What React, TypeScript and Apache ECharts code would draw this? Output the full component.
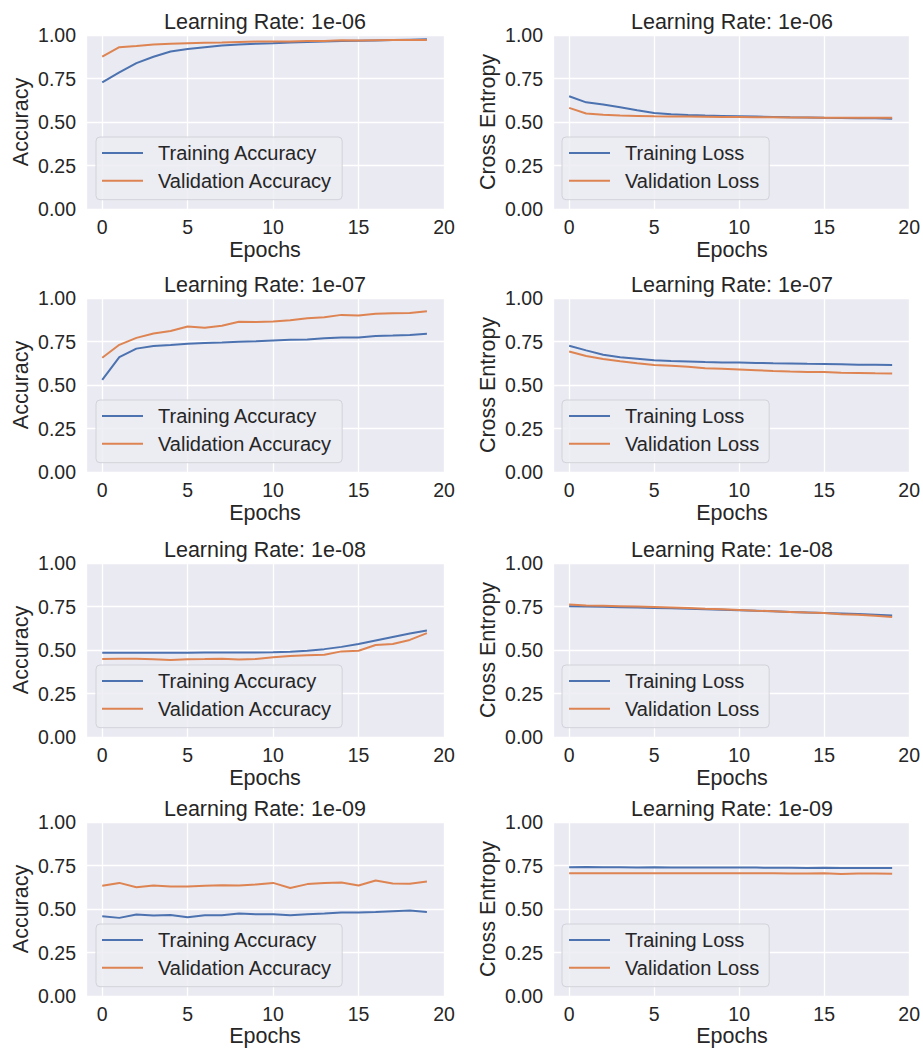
import React, { useEffect, useRef } from "react";
import * as echarts from "echarts";

const epochs = Array.from({ length: 20 }, (_, i) => i);

const learningRates = ["1e-06", "1e-07", "1e-08", "1e-09"];

// Accuracy panels (left column)
const trainAcc6 = [0.728, 0.785, 0.838, 0.875, 0.905, 0.92, 0.93, 0.94, 0.945, 0.95, 0.953, 0.957, 0.96, 0.963, 0.965, 0.967, 0.969, 0.971, 0.973, 0.975];
const valAcc6 = [0.876, 0.93, 0.937, 0.945, 0.95, 0.953, 0.955, 0.957, 0.96, 0.962, 0.962, 0.963, 0.965, 0.966, 0.97, 0.969, 0.97, 0.971, 0.971, 0.971];
const trainAcc7 = [0.53, 0.66, 0.709, 0.724, 0.73, 0.737, 0.741, 0.744, 0.748, 0.751, 0.756, 0.76, 0.762, 0.768, 0.773, 0.773, 0.781, 0.784, 0.788, 0.794];
const valAcc7 = [0.657, 0.731, 0.771, 0.796, 0.81, 0.836, 0.829, 0.84, 0.863, 0.862, 0.865, 0.872, 0.884, 0.89, 0.903, 0.899, 0.909, 0.912, 0.914, 0.924];
const trainAcc8 = [0.484, 0.484, 0.484, 0.484, 0.484, 0.484, 0.485, 0.485, 0.485, 0.486, 0.487, 0.49, 0.496, 0.505, 0.518, 0.535, 0.555, 0.575, 0.595, 0.612];
const valAcc8 = [0.448, 0.449, 0.449, 0.447, 0.442, 0.447, 0.448, 0.45, 0.446, 0.448, 0.458, 0.465, 0.47, 0.473, 0.492, 0.496, 0.529, 0.535, 0.558, 0.597];
const trainAcc9 = [0.458, 0.449, 0.468, 0.462, 0.466, 0.452, 0.464, 0.464, 0.474, 0.47, 0.47, 0.464, 0.47, 0.474, 0.48, 0.48, 0.483, 0.487, 0.491, 0.483];
const valAcc9 = [0.633, 0.65, 0.625, 0.635, 0.629, 0.629, 0.633, 0.637, 0.635, 0.641, 0.65, 0.621, 0.643, 0.65, 0.652, 0.635, 0.664, 0.647, 0.645, 0.658];

// Loss panels (right column)
const trainLoss6 = [0.648, 0.613, 0.6, 0.585, 0.568, 0.552, 0.545, 0.54, 0.537, 0.535, 0.533, 0.531, 0.529, 0.527, 0.526, 0.524, 0.523, 0.522, 0.521, 0.518];
const valLoss6 = [0.581, 0.549, 0.541, 0.537, 0.535, 0.533, 0.532, 0.531, 0.53, 0.529, 0.529, 0.528, 0.527, 0.526, 0.526, 0.525, 0.525, 0.525, 0.524, 0.524];
const trainLoss7 = [0.726, 0.699, 0.674, 0.659, 0.651, 0.642, 0.638, 0.635, 0.632, 0.63, 0.63, 0.627, 0.625, 0.624, 0.622, 0.621, 0.619, 0.617, 0.616, 0.615];
const valLoss7 = [0.693, 0.667, 0.65, 0.637, 0.625, 0.615, 0.61, 0.605, 0.596, 0.593, 0.589, 0.585, 0.58, 0.577, 0.575, 0.575, 0.571, 0.569, 0.567, 0.566];
const trainLoss8 = [0.752, 0.75, 0.748, 0.746, 0.744, 0.742, 0.74, 0.737, 0.734, 0.731, 0.728, 0.725, 0.722, 0.719, 0.716, 0.713, 0.71, 0.707, 0.703, 0.698];
const valLoss8 = [0.762, 0.756, 0.754, 0.752, 0.75, 0.747, 0.744, 0.741, 0.737, 0.734, 0.73, 0.726, 0.723, 0.719, 0.715, 0.712, 0.706, 0.703, 0.697, 0.689];
const trainLoss9 = [0.74, 0.741, 0.74, 0.74, 0.739, 0.74, 0.739, 0.738, 0.738, 0.738, 0.738, 0.738, 0.737, 0.737, 0.736, 0.737, 0.736, 0.736, 0.736, 0.735];
const valLoss9 = [0.706, 0.705, 0.706, 0.706, 0.706, 0.706, 0.705, 0.705, 0.705, 0.705, 0.706, 0.706, 0.705, 0.704, 0.704, 0.705, 0.701, 0.704, 0.704, 0.703];

const trainAccs = [trainAcc6, trainAcc7, trainAcc8, trainAcc9];
const valAccs = [valAcc6, valAcc7, valAcc8, valAcc9];
const trainLosses = [trainLoss6, trainLoss7, trainLoss8, trainLoss9];
const valLosses = [valLoss6, valLoss7, valLoss8, valLoss9];

const yTicks = [0, 0.25, 0.5, 0.75, 1.0];

const BLUE = "#4C72B0";
const ORANGE = "#DD8452";
const BG = "#EAEAF2";
const TXT = "#262626";
const FONT = "'Liberation Sans', Arial, sans-serif";

export default function App() {
  const ref = useRef<HTMLDivElement>(null);

  useEffect(() => {
    const chart = echarts.init(ref.current!, null, { renderer: "svg" });

    const rowTops = [35, 298, 563, 822];
    const plotH = 174;
    const colLefts = [86, 553];
    const plotW = 358;

    const grids: any[] = [];
    const xAxes: any[] = [];
    const yAxes: any[] = [];
    const series: any[] = [];
    const legends: any[] = [];
    const graphics: any[] = [];

    let gi = 0;
    for (let r = 0; r < 4; r++) {
      for (let c = 0; c < 2; c++) {
        const left = colLefts[c];
        const top = rowTops[r];
        grids.push({
          left,
          top,
          width: plotW,
          height: plotH,
          show: true,
          backgroundColor: BG,
          borderWidth: 0,
          containLabel: false,
        });
        xAxes.push({
          type: "value",
          gridIndex: gi,
          min: -0.95,
          max: 20,
          splitNumber: 5,
          axisLine: { show: false },
          axisTick: { show: false },
          splitLine: { show: true, lineStyle: { color: "#ffffff", width: 1.3 } },
          axisLabel: {
            color: TXT,
            fontSize: 19.5,
            lineHeight: 20,
            fontFamily: FONT,
            margin: 8,
            formatter: (v: number) => (Math.abs(v % 5) < 1e-9 ? String(v) : ""),
          },
        });
        yAxes.push({
          type: "value",
          gridIndex: gi,
          min: yTicks[0],
          max: yTicks[yTicks.length - 1],
          interval: 0.25,
          axisLine: { show: false },
          axisTick: { show: false },
          splitLine: { show: true, lineStyle: { color: "#ffffff", width: 1.3 } },
          axisLabel: {
            color: TXT,
            fontSize: 19.5,
            fontFamily: FONT,
            margin: 10,
            formatter: (v: number) => v.toFixed(2),
          },
        });
        const isAcc = c === 0;
        const tName = isAcc ? "Training Accuracy" : "Training Loss";
        const vName = isAcc ? "Validation Accuracy" : "Validation Loss";
        const tData = isAcc ? trainAccs[r] : trainLosses[r];
        const vData = isAcc ? valAccs[r] : valLosses[r];
        series.push({
          type: "line",
          name: tName,
          xAxisIndex: gi,
          yAxisIndex: gi,
          data: epochs.map((e, i) => [e, tData[i]]),
          showSymbol: false,
          symbol: "none",
          lineStyle: { color: BLUE, width: 2 },
          itemStyle: { color: BLUE },
        });
        series.push({
          type: "line",
          name: vName,
          xAxisIndex: gi,
          yAxisIndex: gi,
          data: epochs.map((e, i) => [e, vData[i]]),
          showSymbol: false,
          symbol: "none",
          lineStyle: { color: ORANGE, width: 2 },
          itemStyle: { color: ORANGE },
        });
        legends.push({
          data: [tName, vName],
          orient: "vertical",
          left: left + (c === 0 ? 10 : 9),
          top: top + 102,
          icon: "rect",
          itemWidth: 41,
          itemHeight: 2,
          itemGap: 5.7,
          padding: [5, 10, 8, c === 0 ? 6 : 7],
          backgroundColor: "rgba(236,236,243,0.85)",
          borderColor: "#D2D2DA",
          borderWidth: 1,
          borderRadius: 4,
          selectedMode: false,
          textStyle: {
            color: TXT,
            fontSize: 20,
            fontFamily: FONT,
            lineHeight: 22,
            padding: [0, 0, 0, 10],
          },
        });
        const cx = left + plotW / 2;
        graphics.push({
          type: "text",
          x: cx,
          y: top - 13,
          style: {
            text: `Learning Rate: ${learningRates[r]}`,
            align: "center",
            verticalAlign: "middle",
            fill: TXT,
            font: `21.5px ${FONT}`,
          },
        });
        graphics.push({
          type: "text",
          x: cx,
          y: top + plotH + (r === 3 ? 40 : 41),
          style: {
            text: "Epochs",
            align: "center",
            verticalAlign: "middle",
            fill: TXT,
            font: `21.5px ${FONT}`,
          },
        });
        graphics.push({
          type: "text",
          x: c === 0 ? 21 : 488,
          y: top + plotH / 2,
          rotation: Math.PI / 2,
          style: {
            text: isAcc ? "Accuracy" : "Cross Entropy",
            align: "center",
            verticalAlign: "middle",
            fill: TXT,
            font: `21.5px ${FONT}`,
          },
        });
        gi++;
      }
    }

    chart.setOption({
      animation: false,
      backgroundColor: "#ffffff",
      textStyle: { fontFamily: FONT },
      grid: grids,
      xAxis: xAxes,
      yAxis: yAxes,
      legend: legends,
      series,
      graphic: graphics,
    });

    return () => chart.dispose();
  }, []);

  return (
    <div
      ref={ref}
      style={{ position: "absolute", left: 0, top: 0, width: 923, height: 1051 }}
    />
  );
}
